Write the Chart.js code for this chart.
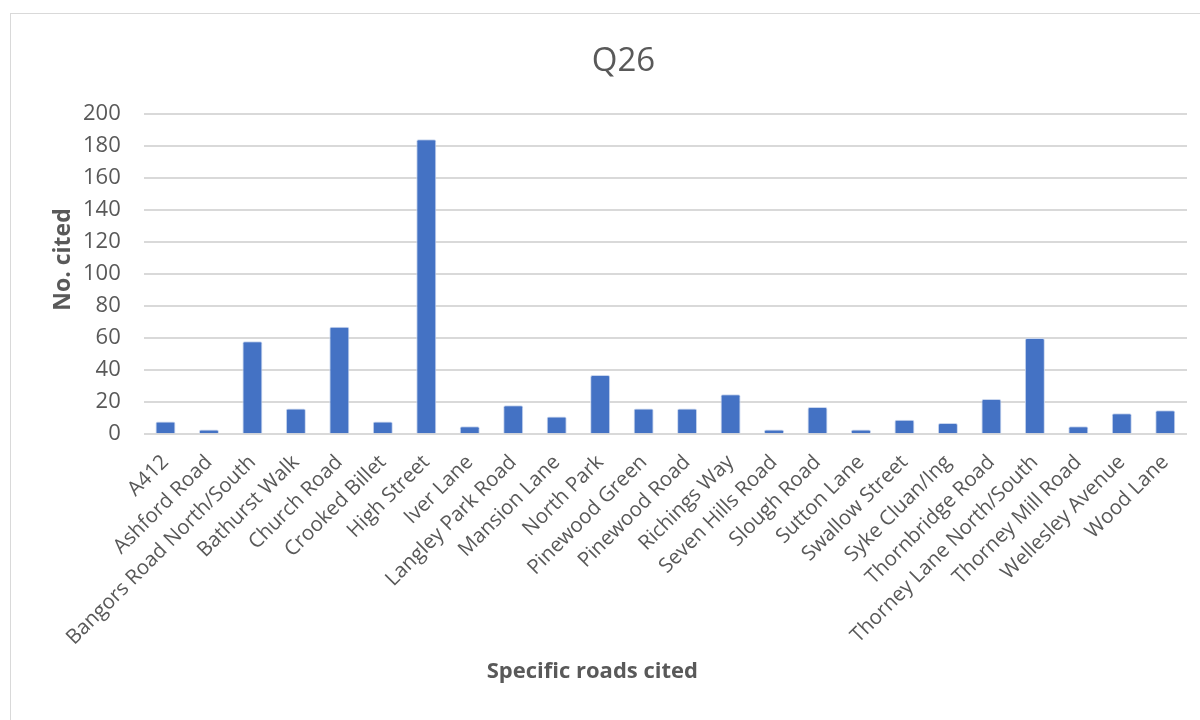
<!DOCTYPE html>
<html>
<head>
<meta charset="utf-8">
<script src="https://cdn.jsdelivr.net/npm/chart.js@4/dist/chart.umd.min.js"></script>
<style>
  html, body { margin: 0; padding: 0; background: #fff; overflow: hidden; }
  .frame { position: absolute; left: 10px; top: 13px; width: 1200px; height: 720px; border: 1px solid #d9d9d9; box-sizing: border-box; }
  .chart-ctnr { position: absolute; left: 0; top: 0; width: 1200px; height: 720px; }
</style>
</head>
<body>
<div class="frame"></div>
<div class="chart-ctnr"><canvas id="barchart" width="1200" height="720"></canvas></div>
<script>
// roads and how often each one was cited
const roads = [
  "A412", "Ashford Road", "Bangors Road North/South", "Bathurst Walk", "Church Road",
  "Crooked Billet", "High Street", "Iver Lane", "Langley Park Road", "Mansion Lane",
  "North Park", "Pinewood Green", "Pinewood Road", "Richings Way", "Seven Hills Road",
  "Slough Road", "Sutton Lane", "Swallow Street", "Syke Cluan/Ing", "Thornbridge Road",
  "Thorney Lane North/South", "Thorney Mill Road", "Wellesley Avenue", "Wood Lane"
];
const cited = [8, 3, 58, 16, 67, 8, 184, 5, 18, 11, 37, 16, 16, 25, 3, 17, 3, 9, 7, 22, 60, 5, 13, 15];
const yTicks = [0, 20, 40, 60, 80, 100, 120, 140, 160, 180, 200];
const xTitle = "Specific roads cited";
const yTitle = "No. cited";

const fontName = "'Open Sans', sans-serif";
const grey = "#595959";

// excel puts the axis titles a bit off centre, so they are drawn here
const axisTitlesPlugin = {
  id: "axisTitles",
  afterDraw: (chart) => {
    const { ctx, chartArea, scales } = chart;
    ctx.save();
    ctx.fillStyle = grey;
    ctx.textAlign = "center";
    ctx.textBaseline = "middle";
    ctx.font = "bold 22px " + fontName;
    ctx.fillText(xTitle, chartArea.left + chartArea.width * 0.43, scales.x.bottom + 14);
    ctx.translate(scales.y.left + 3, chartArea.top + chartArea.height * 0.455);
    ctx.rotate(-Math.PI / 2);
    ctx.font = "bold 23px " + fontName;
    ctx.fillText(yTitle, 0, 0);
    ctx.restore();
  },
};

const ctx = document.getElementById("barchart");
new Chart(ctx, {
  type: "bar",
  data: {
    labels: roads,
    datasets: [
      {
        label: yTitle,
        data: cited,
        backgroundColor: "#4472c4",
        borderColor: "#c9d6ee",
        borderWidth: 1,
        borderRadius: 2,
        categoryPercentage: 1,
        barPercentage: 0.46,
      },
    ],
  },
  plugins: [axisTitlesPlugin],
  options: {
    responsive: false,
    animation: false,
    devicePixelRatio: 1,
    layout: { padding: { left: 60, right: 13, top: 42, bottom: 62 } },
    plugins: {
      legend: { display: false },
      tooltip: { enabled: false },
      title: {
        display: true,
        text: "Q26",
        color: grey,
        font: { family: fontName, size: 33, weight: "normal" },
        padding: { top: 0, bottom: 32 },
      },
    },
    scales: {
      x: {
        // the rotated labels may hang past the left edge, like in excel
        afterFit: (scale) => {
          scale.paddingLeft = 0;
          scale.paddingRight = 0;
        },
        grid: { display: false },
        border: { display: false },
        ticks: {
          color: grey,
          font: { family: fontName, size: 20.5 },
          maxRotation: 45,
          minRotation: 45,
          autoSkip: false,
          padding: 8,
        },
      },
      y: {
        min: 0,
        max: 200,
        afterBuildTicks: (axis) => {
          axis.ticks = yTicks.map((v) => ({ value: v }));
        },
        grid: { color: "#d9d9d9", lineWidth: 2, drawTicks: false },
        border: { display: false },
        ticks: {
          color: grey,
          font: { family: fontName, size: 22 },
          padding: 23,
        },
      },
    },
  },
});
</script>
</body>
</html>
